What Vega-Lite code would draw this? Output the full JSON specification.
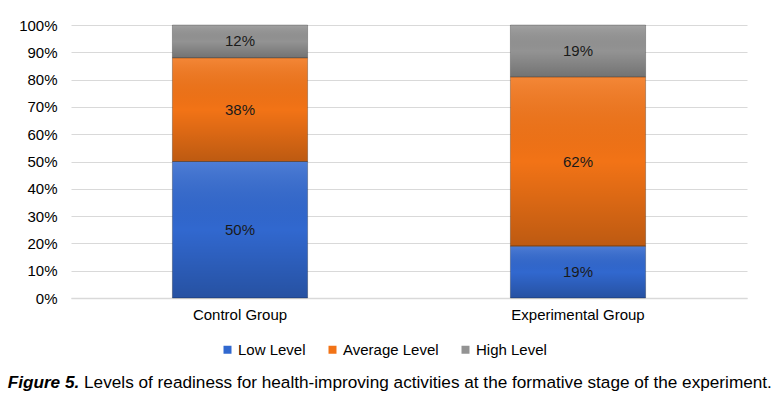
{
  "$schema": "https://vega.github.io/schema/vega-lite/v6.json",
  "width": 676,
  "height": 273,
  "autosize": {"type": "pad"},
  "padding": {"left": 7, "right": 5, "top": 18, "bottom": 6},
  "background": "white",
  "config": {
    "font": "Liberation Sans",
    "view": {"stroke": null},
    "axis": {"labelFont": "Liberation Sans", "labelFontSize": 15, "labelColor": "#000000"},
    "legend": {"labelFont": "Liberation Sans", "labelFontSize": 15, "labelColor": "#000000"}
  },
  "title": {
    "text": "Figure 5.",
    "subtitle": "\u200b\u00a0\u00a0\u00a0\u00a0\u00a0\u00a0\u00a0\u00a0\u00a0\u00a0\u00a0\u00a0\u00a0\u00a0\u00a0\u00a0Levels of readiness for health-improving activities at the formative stage of the experiment.",
    "orient": "bottom",
    "anchor": "start",
    "frame": "bounds",
    "dx": -11,
    "offset": 16,
    "font": "Liberation Sans",
    "fontSize": 17.2,
    "fontWeight": "bold",
    "fontStyle": "italic",
    "color": "#000000",
    "subtitleFont": "Liberation Sans",
    "subtitleFontSize": 17.2,
    "subtitleFontWeight": "normal",
    "subtitleFontStyle": "normal",
    "subtitleColor": "#000000",
    "subtitlePadding": -17.2
  },
  "data": {
    "values": [
      {"group": "Control Group", "level": "Low Level", "order": 1, "value": 0.50},
      {"group": "Control Group", "level": "Average Level", "order": 2, "value": 0.38},
      {"group": "Control Group", "level": "High Level", "order": 3, "value": 0.12},
      {"group": "Experimental Group", "level": "Low Level", "order": 1, "value": 0.19},
      {"group": "Experimental Group", "level": "Average Level", "order": 2, "value": 0.62},
      {"group": "Experimental Group", "level": "High Level", "order": 3, "value": 0.19}
    ]
  },
  "transform": [
    {"stack": "value", "groupby": ["group"], "sort": [{"field": "order", "order": "ascending"}], "as": ["v0", "v1"]}
  ],
  "encoding": {
    "x": {
      "field": "group",
      "type": "nominal",
      "sort": ["Control Group", "Experimental Group"],
      "scale": {"paddingInner": 0.6, "paddingOuter": 0.3},
      "axis": {"title": null, "labelAngle": 0, "ticks": false, "domainColor": "#d9d9d9", "domainWidth": 1.5, "labelPadding": 9}
    }
  },
  "layer": [
    {
      "mark": {"type": "bar"},
      "encoding": {
        "y": {
          "field": "v0",
          "type": "quantitative",
          "scale": {"domain": [0, 1], "nice": false},
          "axis": {"title": null, "format": ".0%", "values": [0, 0.1, 0.2, 0.3, 0.4, 0.5, 0.6, 0.7, 0.8, 0.9, 1], "labelOverlap": false, "domain": false, "ticks": false, "gridColor": "#d9d9d9", "labelPadding": 14}
        },
        "y2": {"field": "v1"},
        "color": {
          "field": "level",
          "type": "nominal",
          "sort": ["Low Level", "Average Level", "High Level"],
          "scale": {"domain": ["Low Level", "Average Level", "High Level"], "range": ["#3168cf", "#f27316", "#939393"]},
          "legend": {"title": null, "orient": "none", "legendX": 149, "legendY": 317, "direction": "horizontal", "symbolType": "square", "symbolSize": 64, "symbolStrokeWidth": 0, "columnPadding": 19, "labelOffset": 3}
        }
      }
    },
    {
      "mark": {
        "type": "bar",
        "fill": {
          "gradient": "linear",
          "x1": 0, "y1": 0, "x2": 0, "y2": 1,
          "stops": [
            {"offset": 0, "color": "rgba(255,255,255,0.14)"},
            {"offset": 0.5, "color": "rgba(0,0,0,0.0)"},
            {"offset": 1, "color": "rgba(0,0,0,0.22)"}
          ]
        },
        "stroke": "rgba(0,0,0,0.25)",
        "strokeWidth": 1
      },
      "encoding": {
        "y": {
          "field": "v0",
          "type": "quantitative",
          "axis": {"title": null, "format": ".0%", "values": [0, 0.1, 0.2, 0.3, 0.4, 0.5, 0.6, 0.7, 0.8, 0.9, 1], "labelOverlap": false, "domain": false, "ticks": false, "gridColor": "#d9d9d9", "labelPadding": 14}
        },
        "y2": {"field": "v1"}
      }
    },
    {
      "transform": [
        {"fold": ["v0", "v1"], "as": ["edge", "pos"]},
        {"aggregate": [{"op": "mean", "field": "pos", "as": "mid"}], "groupby": ["group", "level", "value"]}
      ],
      "mark": {"type": "text", "font": "Liberation Sans", "fontSize": 15, "color": "#1a1a1a"},
      "encoding": {
        "y": {
          "field": "mid",
          "type": "quantitative",
          "axis": {"title": null, "format": ".0%", "values": [0, 0.1, 0.2, 0.3, 0.4, 0.5, 0.6, 0.7, 0.8, 0.9, 1], "labelOverlap": false, "domain": false, "ticks": false, "gridColor": "#d9d9d9", "labelPadding": 14}
        },
        "text": {"field": "value", "type": "quantitative", "format": ".0%"}
      }
    }
  ]
}
